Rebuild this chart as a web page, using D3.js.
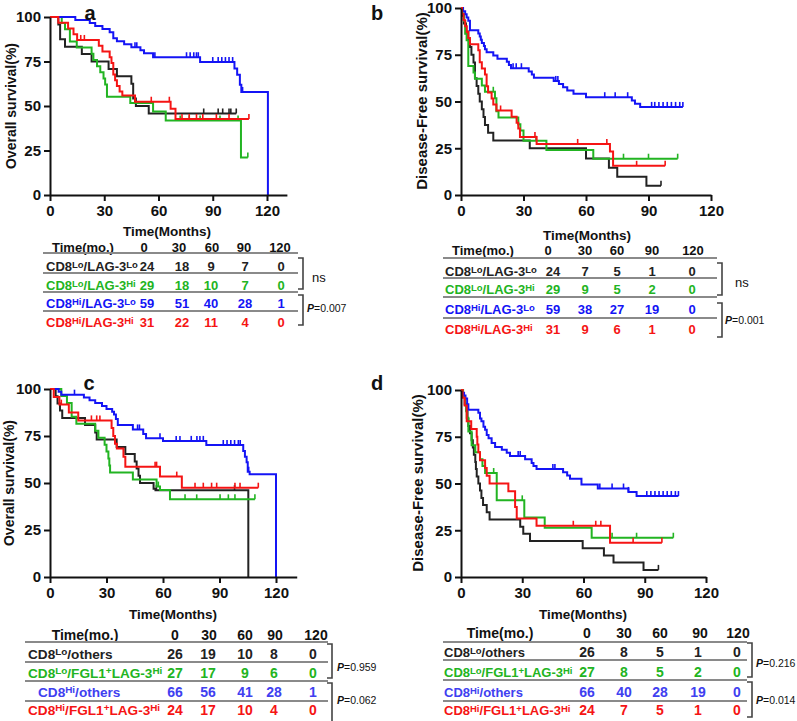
<!DOCTYPE html>
<html>
<head>
<meta charset="utf-8">
<script src="https://cdn.jsdelivr.net/npm/d3@7"></script>
<style>
  body { margin: 0; background: #fff; }
  svg { display: block; font-family: Arial, "Liberation Sans", sans-serif; font-weight: bold; }
</style>
</head>
<body>
<svg id="fig" width="797" height="721"></svg>
<script>
// Kaplan-Meier panels: OS / DFS by CD8 and LAG-3 (a,b), CD8 and FGL1/LAG-3 (c,d)

const timeTicks = [0, 30, 60, 90, 120];
const survTicks = [0, 25, 50, 75, 100];
const curveColors = ["#222222", "#22b422", "#1414f5", "#f51414"];
const tableColorsAB = ["#222222", "#22b422", "#1414f5", "#f51414"];
const tableColorsCD = ["#222222", "#22b422", "#4040f0", "#f51414"];

// ---- panel a (overall survival) : [month, survival% after step]
const aLoLoSteps = [[0,100],[4.6,95.8],[5.6,87.5],[8.3,83.3],[17.6,79.2],[23,75],[32.4,70.8],[37,66.7],[45,62.5],[46,54.2],[47.5,50],[54.6,45.8]];
const aLoLoCens = [85, 93, 95.5, 99, 100, 103];
const aLoHiSteps = [[0,100],[6.5,96.6],[8.3,93.1],[11,86.2],[14.8,82.8],[23,79.3],[24,75.9],[26,72.4],[27.8,69],[29.6,65.5],[30.5,62.1],[31.5,55.2],[44.4,51.7],[57,46.9],[64,41.9],[105.6,21]];
const aLoHiCens = [72, 77, 83, 94, 104, 109.4];
const aHiLoSteps = [[0,100],[14,98.3],[22,96.6],[25,94.9],[29,93.2],[33,91.5],[35,88.1],[37,86.4],[41,84.7],[45,83],[50,81.3],[52,79.6],[57,77.4],[83,74.7],[102,71],[103.5,67.5],[105,62],[105.8,57.9],[120.5,0]];
const aHiLoCens = [47, 48, 58, 75.5, 77.5, 79.5, 81, 82, 90, 93, 95, 97, 99, 101, 106.5];
const aHiHiSteps = [[0,100],[4.6,96.8],[10,93.5],[13,90.3],[15,87.1],[27,83.9],[29,80.6],[33,77.4],[34,74.2],[35,67.7],[36,64.5],[37,61.3],[38.5,58.1],[40,55.9],[47,52.4],[66.7,48.5],[69.4,42.7]];
const aHiHiCens = [17, 19, 56, 66, 73, 77, 81, 84.5, 92, 99, 110];
const aEnds = [103, 109.4, 120.5, 110];

// ---- panel b (disease-free survival)
const bLoLoSteps = [[0,100],[0.5,95.8],[1.4,91.7],[2.4,87.5],[3.5,83.3],[4.3,79.2],[5,75],[6,70.8],[6.7,62.5],[7.5,58.3],[8.3,54.2],[9,50],[10,45.8],[10.8,41.7],[11.5,37.5],[13,33.3],[15.5,29.2],[33,25],[60,19.5],[71,14.6],[75,9.7],[89,4.9]];
const bLoLoCens = [96];
const bLoHiSteps = [[0,100],[0.8,96.6],[1.5,93.1],[2,86.2],[2.7,82.8],[3.5,69],[6,65.5],[6.7,62.1],[10,58.6],[11.5,55.2],[16.3,51.7],[17,44.8],[18,41.4],[27.5,37.9],[28.5,34.5],[30,29],[41,24],[63.5,19.4]];
const bLoHiCens = [15.5, 36, 78, 90, 104];
const bHiLoSteps = [[0,100],[1,98.3],[2,96.6],[2.7,94.9],[3.5,93.2],[4.3,88.1],[8.3,86.4],[9,84.7],[9.5,83],[10,81.3],[11,79.7],[11.5,78],[12.3,76.3],[15.5,74.6],[17.5,72.9],[22,71.2],[23,69.5],[24,67.8],[32.5,66.1],[34,64.4],[35,62.7],[44.5,61],[47,59.3],[49,57.6],[51,55.9],[54,54.2],[60,52.3],[82,50.5],[83.5,48.8],[86,47.1]];
const bHiLoCens = [25, 26.5, 29, 45.5, 46.5, 69, 74, 80, 91.5, 93, 95, 97, 99, 101, 103, 105, 106.5];
const bHiHiSteps = [[0,100],[0.5,96.8],[1.2,93.5],[2,90.3],[2.8,87.1],[3.5,83.9],[4.3,80.6],[8.3,77.4],[9,71],[10,67.7],[11.5,64.5],[12.3,58.1],[13,54.8],[14.7,51.6],[15.5,48.4],[17,45.2],[24.3,41.9],[26.7,38.7],[27.5,35.5],[28.3,31],[36.3,27.3],[71.5,23.2],[73,15.6]];
const bHiHiCens = [19, 35.5, 56, 70, 84.3, 98];
const bEnds = [96, 104, 106.5, 98];

// ---- panel c (overall survival)
const cLoOthSteps = [[0,100],[3,96.2],[4,92.3],[5.3,88.5],[6.5,84.6],[18.6,80.8],[24,76.9],[24.8,73.1],[35.4,69.2],[40,65.4],[45,61.5],[46,57.7],[47,53.8],[47.8,50],[55,47],[56,46.2],[105.3,0]];
const cLoOthCens = [56.5, 98];
const cLoFglSteps = [[0,100],[6,96.3],[9,92.6],[11.5,85.2],[14,81.5],[24,77.8],[25.7,74.1],[29,70.4],[30,66.7],[31,63],[31.5,59.3],[31.9,55.6],[44,51.9],[56.6,48.1],[58.4,46.3],[63.7,41.3]];
const cLoFglCens = [57.5, 71.7, 77.9, 90.3, 94.7, 98.2, 108.8];
const cHiOthSteps = [[0,100],[4.6,98.5],[6,97],[18,95.5],[21,94],[24,92.5],[27.6,91],[30,89.4],[33,87.9],[34,86.4],[35,84],[36,80.9],[44,78.5],[49.5,76],[51,73.8],[60,72.4],[83,70.2],[102.6,67],[103.5,64],[104.4,61],[105,56],[106,54.6],[120,0]];
const cHiOthCens = [13, 46.5, 47.5, 58.4, 67, 69, 75, 78, 79.6, 81.4, 92, 94, 96, 98, 100, 101, 105.5];
const cHiFglSteps = [[0,100],[2,95.8],[5,91.7],[10,87.5],[15,83.3],[32.7,79.2],[33.6,75],[34.5,70.9],[35.5,68.4],[39,64],[40,58.7],[58.4,53.4],[70,47.5]];
const cHiFglCens = [6, 22, 24.8, 26.5, 55.8, 56.6, 67.3, 77, 81.4, 85.8, 88.5, 98.2, 100.9, 110.6];
const cEnds = [105.3, 108.8, 120, 110.6];

// ---- panel d (disease-free survival)
const dLoOthSteps = [[0,100],[1,96.2],[1.8,92.3],[2.8,88.5],[3.2,84.6],[3.6,80.8],[4.4,76.9],[5.2,73.1],[5.8,69.2],[6.3,65.4],[7,61.5],[7.3,57.7],[7.7,53.8],[8.5,50],[9.3,46.2],[10,42.3],[10.8,38.5],[12.6,34.6],[14,30.8],[29,26.9],[30.5,23.1],[33.8,19.2],[59.6,15.4],[70,11.5],[74.7,7.7],[89.4,3.8]];
const dLoOthCens = [96.7];
const dLoFglSteps = [[0,100],[1,96.3],[2,92.6],[2.5,88.9],[2.8,85.2],[3.6,77.8],[5.2,70.4],[7,66.7],[9.3,63],[10.5,59.3],[11.8,55.6],[17.5,41],[31,31.8],[41,26.3],[64,21]];
const dLoFglCens = [16, 30, 74, 86, 104];
const dHiOthSteps = [[0,100],[0.5,98.5],[1.5,97],[2.2,95.5],[3,92.4],[3.6,89.4],[8.5,87.9],[9.3,84.8],[10,83.3],[11,80.3],[11.8,78.8],[12.6,76],[13.5,74.2],[15,71.6],[16.7,69.5],[20,68],[22.4,66.5],[24,64.7],[31.4,63],[34.6,61],[35.5,59.3],[37,57.7],[50,56],[52,54.3],[53.4,52.6],[59,49.5],[67,47.3],[82,45.5],[86,43.3]];
const dHiOthCens = [28, 29, 45, 46, 68, 74, 79.6, 82, 91, 93, 95, 97, 99, 101, 103, 105, 106.5];
const dHiFglSteps = [[0,100],[0.8,95.8],[1.8,91.7],[2.8,83.3],[5,79.2],[7.7,75],[8,70.8],[8.5,66.7],[9.3,62.5],[11.8,58.3],[12.6,54.2],[14,50],[23.2,45.8],[26.5,37.5],[27.3,31.3],[37,27.4],[73,18.3]];
const dHiFglCens = [55, 66, 68.5, 84.3, 98.4];
const dEnds = [96.7, 104, 106.5, 98.4];

// ---- numbers at risk
const tableTimes = [0, 30, 60, 90, 120];
const labelsAB = ["CD8^{Lo}/LAG-3^{Lo}", "CD8^{Lo}/LAG-3^{Hi}", "CD8^{Hi}/LAG-3^{Lo}", "CD8^{Hi}/LAG-3^{Hi}"];
const labelsCD = ["CD8^{Lo}/others", "CD8^{Lo}/FGL1^{+}LAG-3^{Hi}", "CD8^{Hi}/others", "CD8^{Hi}/FGL1^{+}LAG-3^{Hi}"];
const riskA = [[24,18,9,7,0],[29,18,10,7,0],[59,51,40,28,1],[31,22,11,4,0]];
const riskB = [[24,7,5,1,0],[29,9,5,2,0],[59,38,27,19,0],[31,9,6,1,0]];
const riskC = [[26,19,10,8,0],[27,17,9,6,0],[66,56,41,28,1],[24,17,10,4,0]];
const riskD = [[26,8,5,1,0],[27,8,5,2,0],[66,40,28,19,0],[24,7,5,1,0]];
const pA = ["ns", "P=0.007"];
const pB = ["ns", "P=0.001"];
const pC = ["P=0.959", "P=0.062"];
const pD = ["P=0.216", "P=0.014"];

const svg = d3.select("#fig");

function survAt(steps, t) {
  let s = 100;
  steps.forEach(([tt, v]) => { if (tt <= t) s = v; });
  return s;
}

function drawPanel(p) {
  const x = d3.scaleLinear().domain([0, p.xMax]).range([p.x0, p.x0 + (p.x120 - p.x0) * p.xMax / 120]);
  const y = d3.scaleLinear().domain([0, 100]).range([p.yBot, p.yTop]);
  const g = svg.append("g");

  // curves, drawn black, green, blue, red
  [0, 1, 2, 3].forEach(i => {
    const steps = p.steps[i];
    let d = `M${x(0)},${y(100)}`;
    steps.slice(1).forEach(([t, s]) => { d += `H${x(t)}V${y(s)}`; });
    const last = steps[steps.length - 1];
    if (p.ends[i] > last[0]) d += `H${x(p.ends[i])}`;
    g.append("path").attr("d", d).attr("fill", "none")
      .attr("stroke", curveColors[i]).attr("stroke-width", 2);
    // censor marks
    g.append("g").selectAll("line").data(p.cens[i]).enter().append("line")
      .attr("x1", t => x(t)).attr("x2", t => x(t))
      .attr("y1", t => y(survAt(steps, t)))
      .attr("y2", t => y(survAt(steps, t)) - 5)
      .attr("stroke", curveColors[i]).attr("stroke-width", 1.6);
  });

  const xAxis = d3.axisBottom(x).tickValues(timeTicks).tickSize(6).tickSizeOuter(0).tickPadding(4);
  const yAxis = d3.axisLeft(y).tickValues(survTicks).tickSize(6).tickSizeOuter(0).tickPadding(3);
  const gx = g.append("g").attr("transform", `translate(0,${p.yBot})`).call(xAxis);
  const gy = g.append("g").attr("transform", `translate(${p.x0},0)`).call(yAxis);
  [gx, gy].forEach(a => {
    a.select(".domain").attr("stroke", "#111").attr("stroke-width", 2);
    a.selectAll(".tick line").attr("stroke", "#111").attr("stroke-width", 2);
    a.selectAll(".tick text").attr("fill", "#111").attr("font-size", 15)
      .attr("font-family", "Arial, 'Liberation Sans', sans-serif").attr("font-weight", "bold");
  });

  g.append("text").attr("x", p.xTitle[0]).attr("y", p.xTitle[1]).attr("text-anchor", "middle")
    .attr("dy", "0.35em").attr("font-size", 13.5).attr("fill", "#111").text("Time(Months)");
  g.append("text").attr("transform", `translate(${p.yTitle[0]},${p.yTitle[1]}) rotate(-90)`)
    .attr("text-anchor", "middle").attr("dy", "0.35em").attr("font-size", p.yTitleSize)
    .attr("fill", "#111").text(p.yLabel);
  g.append("text").attr("x", p.letter[0]).attr("y", p.letter[1]).attr("text-anchor", "middle")
    .attr("dy", "0.35em").attr("font-size", 20).attr("fill", "#111").text(p.name);
}

function addLabel(sel, str) {
  str.split(/(\^\{[^}]*\})/).filter(s => s.length).forEach(part => {
    if (part.startsWith("^{")) {
      sel.append("tspan").attr("font-size", "0.73em").attr("baseline-shift", "38%").text(part.slice(2, -1));
    } else {
      sel.append("tspan").text(part);
    }
  });
}

function drawTable(t) {
  const g = svg.append("g").attr("font-size", t.fs);
  g.append("text").attr("x", t.hdrX).attr("y", t.hdrY).attr("dy", "0.35em")
    .attr("text-anchor", "middle").attr("fill", "#111").text("Time(mo.)");
  g.selectAll("text.hdr").data(tableTimes).enter().append("text").attr("class", "hdr")
    .attr("x", (d, i) => t.cols[i]).attr("y", t.hdrY).attr("dy", "0.35em")
    .attr("text-anchor", "middle").attr("fill", "#111").text(d => d);
  g.selectAll("line.sep").data(t.lineY).enter().append("line").attr("class", "sep")
    .attr("x1", t.lineX[0]).attr("x2", t.lineX[1]).attr("y1", d => d).attr("y2", d => d)
    .attr("stroke", "#8a8a8a").attr("stroke-width", 2);
  t.labels.forEach((lab, r) => {
    const txt = g.append("text").attr("x", t.labelX + (t.labelShift ? t.labelShift[r] : 0))
      .attr("y", t.rowY[r]).attr("dy", "0.35em").attr("fill", t.colors[r]).attr("font-size", t.labFs || t.fs);
    addLabel(txt, lab);
    g.selectAll(null).data(t.risk[r]).enter().append("text")
      .attr("x", (d, i) => t.numCols[i]).attr("y", t.rowY[r]).attr("dy", "0.35em")
      .attr("text-anchor", "middle").attr("fill", t.colors[r]).text(d => d);
  });
  t.br.forEach(([y1, y2], k) => {
    g.append("path").attr("d", `M${t.brX - 5},${y1}H${t.brX}V${y2}H${t.brX - 5}`)
      .attr("fill", "none").attr("stroke", "#444").attr("stroke-width", 1.6);
    const pt = g.append("text").attr("x", t.pX[k]).attr("y", t.pY[k]).attr("dy", "0.35em")
      .attr("font-size", 10.5).attr("font-weight", "normal").attr("fill", "#111");
    const s = t.p[k];
    if (s.startsWith("P")) {
      pt.append("tspan").attr("font-style", "italic").attr("font-weight", "bold").text("P");
      pt.append("tspan").text(s.slice(1));
    } else {
      pt.attr("font-size", 13).text(s);
    }
  });
}

drawPanel({ name: "a", x0: 50, x120: 267, xMax: 131, yTop: 17, yBot: 195,
  steps: [aLoLoSteps, aLoHiSteps, aHiLoSteps, aHiHiSteps], cens: [aLoLoCens, aLoHiCens, aHiLoCens, aHiHiCens], ends: aEnds,
  xTitle: [167, 231], yTitle: [11, 106], yTitleSize: 14, yLabel: "Overall survival(%)", letter: [90, 13] });
drawPanel({ name: "b", x0: 461, x120: 711, xMax: 120, yTop: 8, yBot: 195,
  steps: [bLoLoSteps, bLoHiSteps, bHiLoSteps, bHiHiSteps], cens: [bLoLoCens, bLoHiCens, bHiLoCens, bHiHiCens], ends: bEnds,
  xTitle: [587, 235], yTitle: [422, 101], yTitleSize: 15, yLabel: "Disease-Free survival(%)", letter: [377, 13] });
drawPanel({ name: "c", x0: 50, x120: 276, xMax: 131, yTop: 389, yBot: 577,
  steps: [cLoOthSteps, cLoFglSteps, cHiOthSteps, cHiFglSteps], cens: [cLoOthCens, cLoFglCens, cHiOthCens, cHiFglCens], ends: cEnds,
  xTitle: [173, 614], yTitle: [9, 483], yTitleSize: 14, yLabel: "Overall survival(%)", letter: [89, 383] });
drawPanel({ name: "d", x0: 461, x120: 706, xMax: 120, yTop: 390, yBot: 577,
  steps: [dLoOthSteps, dLoFglSteps, dHiOthSteps, dHiFglSteps], cens: [dLoOthCens, dLoFglCens, dHiOthCens, dHiFglCens], ends: dEnds,
  xTitle: [583, 614], yTitle: [418, 483], yTitleSize: 15, yLabel: "Disease-Free survival(%)", letter: [377, 383] });

drawTable({ fs: 13, hdrX: 83, hdrY: 247, cols: [144, 179, 212, 244, 280], numCols: [147, 182, 211, 245, 281], labelX: 46,
  rowY: [266, 285, 303, 322], lineY: [253, 273, 292, 311], lineX: [43, 298],
  brX: 303, br: [[258, 289], [295, 325]], pX: [312, 307], pY: [277, 308],
  labels: labelsAB, risk: riskA, colors: tableColorsAB, p: pA });
drawTable({ fs: 13, hdrX: 483, hdrY: 250, cols: [548, 585, 617, 652, 693], numCols: [553, 585, 617, 652, 692], labelX: 445,
  rowY: [271, 289, 309, 329], lineY: [258, 278, 297, 318], lineX: [443, 717],
  brX: 722, br: [[263, 295], [303, 337]], pX: [735, 725], pY: [282, 320],
  labels: labelsAB, risk: riskB, colors: tableColorsAB, p: pB });
drawTable({ fs: 14, labFs: 13.6, hdrX: 85, hdrY: 635, cols: [175, 209, 245, 275, 316], numCols: [175, 208, 245, 274, 313], labelX: 28, labelShift: [0, 0, 10, 0],
  rowY: [654, 673, 692, 710], lineY: [642, 662, 681, 701], lineX: [25, 328],
  brX: 332, br: [[644, 678], [683, 724]], pX: [337, 337], pY: [667, 700],
  labels: labelsCD, risk: riskC, colors: tableColorsCD, p: pC });
drawTable({ fs: 14, labFs: 13, hdrX: 500, hdrY: 633, cols: [587, 624, 660, 700, 738], numCols: [587, 624, 660, 698, 737], labelX: 444,
  rowY: [652, 672, 692, 710], lineY: [642, 660, 680, 701], lineX: [443, 747],
  brX: 752, br: [[643, 677], [682, 717]], pX: [756, 756], pY: [663, 700],
  labels: labelsCD, risk: riskD, colors: tableColorsCD, p: pD });
</script>
</body>
</html>
